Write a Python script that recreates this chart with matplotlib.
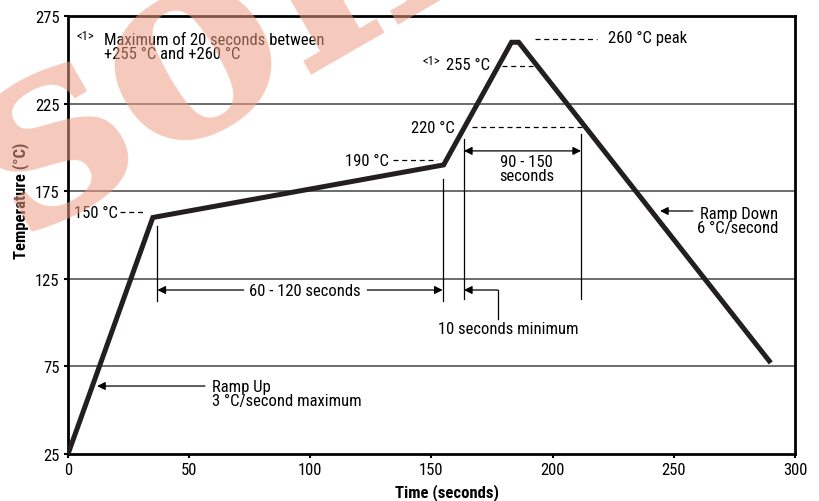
import matplotlib
matplotlib.use("Agg")
import matplotlib.pyplot as plt
from matplotlib import font_manager

# reflow profile (time s, temperature °C)
profile_t = [0, 35, 155, 183, 186, 290]
profile_c = [25, 160, 190, 260, 260, 77]

x_ticks = [0, 50, 100, 150, 200, 250, 300]
y_ticks = [25, 75, 125, 175, 225, 275]
grid_levels = [75, 125, 175, 225]

# vertical marker lines: (x, y0, y1)
markers = [(36.9, 112.3, 155.1), (154.6, 112.3, 182.0),
           (163.4, 113.5, 204.8), (211.7, 113.5, 207.6)]

# dashed level leaders: (x0, x1, y)
leaders = [(21.5, 32.2, 163.1), (134.0, 152.3, 192.8), (166.7, 212.1, 211.6),
           (179.1, 191.9, 246.2), (192.7, 218.3, 261.9)]

# pick a narrow sans (the original uses Helvetica Condensed)
names = {f.name for f in font_manager.fontManager.ttflist}
narrow = next((n for n in ["Roboto Condensed", "Archivo Narrow",
                           "Liberation Sans Narrow", "Barlow Semi Condensed"]
               if n in names), "DejaVu Sans")
plt.rcParams["font.family"] = [narrow, "DejaVu Sans"]
plt.rcParams["font.size"] = 12

fig = plt.figure(figsize=(8.2, 5.02), dpi=100)
ax = fig.add_axes([68 / 820, 47 / 502, 727 / 820, 438 / 502])

ax.set_xlim(0, 300)
ax.set_ylim(25, 275)
ax.set_xticks(x_ticks)
ax.set_yticks(y_ticks)
ax.tick_params(direction="out", length=3, width=1.5, labelsize=12, pad=3)
for s in ax.spines.values():
    s.set_linewidth(2)

for g in grid_levels:
    ax.axhline(g, color="#444444", lw=1.1, zorder=1)

ax.plot(profile_t, profile_c, color="#231f20", lw=3.6, solid_joinstyle="miter",
        solid_capstyle="butt", zorder=4)

for x, y0, y1 in markers:
    ax.plot([x, x], [y0, y1], color="black", lw=0.9, zorder=3)
for x0, x1, y in leaders:
    ax.plot([x0, x1], [y, y], color="black", lw=0.9, ls=(0, (4, 3)), zorder=3)

arr = dict(arrowstyle="-|>", color="black", lw=0.9, mutation_scale=12,
           shrinkA=0, shrinkB=0)

# 60 - 120 seconds
ax.annotate("", xy=(36.9, 118.6), xytext=(72.5, 118.6), arrowprops=arr)
ax.annotate("", xy=(154.6, 118.6), xytext=(123.5, 118.6), arrowprops=arr)
ax.text(97.9, 118.6, "60 - 120 seconds", ha="center", va="center")

# 10 seconds minimum
ax.annotate("", xy=(163.4, 118.6), xytext=(177.3, 118.6), arrowprops=arr)
ax.plot([177.3, 177.3], [118.6, 102.0], color="black", lw=0.9)
ax.text(181.6, 96.5, "10 seconds minimum", ha="center", va="center")

# 90 - 150 seconds
ax.annotate("", xy=(163.4, 198.0), xytext=(211.7, 198.0),
            arrowprops=dict(arr, arrowstyle="<|-|>"))
ax.text(189.3, 188.0, "90 - 150\nseconds", ha="center", va="center",
        linespacing=0.85)

# ramps
ax.annotate("", xy=(12.0, 63.8), xytext=(56.5, 63.8), arrowprops=arr)
ax.text(59.4, 59.5, "Ramp Up\n3 °C/second maximum", ha="left", va="center",
        linespacing=0.95)
ax.annotate("", xy=(244.3, 163.7), xytext=(257.9, 163.7), arrowprops=arr)
ax.text(293.0, 158.3, "Ramp Down\n6 °C/second", ha="right", va="center",
        linespacing=0.95, multialignment="right")

# level labels
ax.text(20.6, 163.1, "150 °C", ha="right", va="center")
ax.text(132.5, 192.8, "190 °C", ha="right", va="center")
ax.text(159.7, 211.6, "220 °C", ha="right", va="center")
ax.text(174.2, 247.6, "255 °C", ha="right", va="center")
ax.text(146.2, 249.8, "<1>", ha="left", va="center", fontsize=9)
ax.text(222.8, 263.0, "260 °C peak", ha="left", va="center")

ax.text(3.6, 264.0, "<1>", ha="left", va="center", fontsize=9)
ax.text(14.9, 257.6, "Maximum of 20 seconds between\n+255 °C and +260 °C",
        ha="left", va="center", linespacing=0.95)

ax.set_xlabel("Time (seconds)", fontweight="bold")
ax.set_ylabel("Temperature (°C)", fontweight="bold")
ax.xaxis.set_label_coords(0.521, -0.066)
ax.yaxis.set_label_coords(-0.054, 0.58)

# watermark
fig.text(0.026, 0.53, "solid", fontsize=190, fontweight="bold",
         family="DejaVu Serif", color="#ed9e84", alpha=0.55, rotation=30,
         rotation_mode="anchor", ha="left", va="baseline", zorder=10)

fig.savefig("out.png", dpi=100)
